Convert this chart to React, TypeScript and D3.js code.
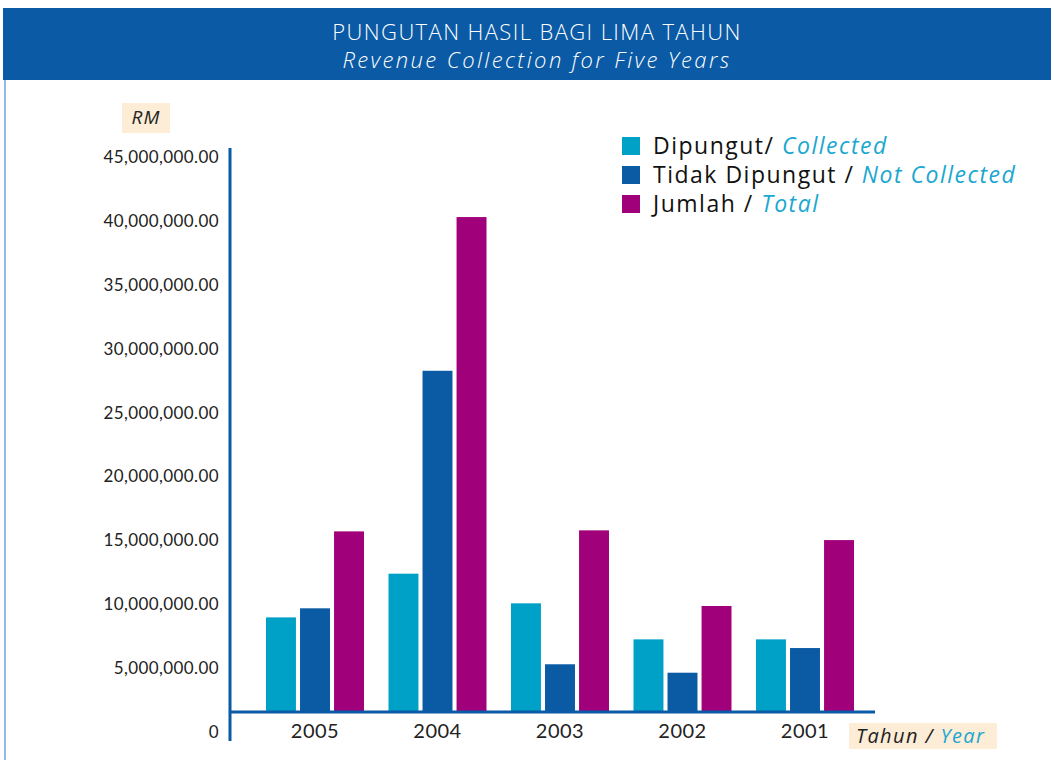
import React, { useEffect, useRef } from 'react';
import * as d3 from 'd3';

const years = ['2005', '2004', '2003', '2002', '2001'];
const collected = [8970000, 12390000, 10070000, 7250000, 7250000];
const notCollected = [9680000, 28270000, 5300000, 4640000, 6570000];
const total = [15700000, 40300000, 15780000, 9860000, 15020000];
const yTicks = [0, 5000000, 10000000, 15000000, 20000000, 25000000, 30000000, 35000000, 40000000, 45000000];
const seriesKeys = ['collected', 'notCollected', 'total'];
const seriesMy = ['Dipungut/ ', 'Tidak Dipungut / ', 'Jumlah / '];
const seriesEn = ['Collected', 'Not Collected', 'Total'];
const seriesColors = ['#00a1c7', '#0a5aa4', '#a1007b'];

const W = 1051;
const H = 760;
const FONT = '"Open Sans", Lato, sans-serif';
const NUMFONT = 'Lato, "Open Sans", sans-serif';

export default function App() {
  const ref = useRef<SVGSVGElement>(null);

  useEffect(() => {
    const svg = d3.select(ref.current);
    svg.selectAll('*').remove();

    const baseY = 712;
    const axisX = 230;

    const x = d3.scaleBand().domain(years).range([266, 854]).paddingInner(0.2).paddingOuter(0);
    const xSub = d3.scaleBand().domain(seriesKeys).range([0, x.bandwidth()]).paddingInner(0.12);
    const y = d3.scaleLinear().domain([0, 45000000]).range([732, 157]);

    // header band
    svg.append('rect').attr('x', 3).attr('y', 8).attr('width', W - 3).attr('height', 72).attr('fill', '#0a5aa5');
    svg.append('line')
      .attr('x1', 5).attr('x2', 5).attr('y1', 80).attr('y2', H)
      .attr('stroke', '#6fa3d8').attr('stroke-width', 1.5);

    svg.append('text')
      .attr('x', 537).attr('y', 40)
      .attr('text-anchor', 'middle')
      .attr('fill', '#fff')
      .style('font-family', FONT).style('font-size', '22px').style('font-weight', 300).style('letter-spacing', '1.4px')
      .text('PUNGUTAN HASIL BAGI LIMA TAHUN');
    svg.append('text')
      .attr('x', 537).attr('y', 68)
      .attr('text-anchor', 'middle')
      .attr('fill', '#fff')
      .style('font-family', FONT).style('font-size', '22px').style('font-style', 'italic').style('font-weight', 300)
      .style('letter-spacing', '2.4px')
      .text('Revenue Collection for Five Years');

    // RM label
    svg.append('rect').attr('x', 122).attr('y', 103).attr('width', 48).attr('height', 30).attr('fill', '#fdecd6');
    svg.append('text')
      .attr('x', 146).attr('y', 124)
      .attr('text-anchor', 'middle')
      .attr('fill', '#222')
      .style('font-family', FONT).style('font-size', '19px').style('font-style', 'italic').style('letter-spacing', '1px')
      .text('RM');

    // y axis labels
    const yAxis = svg.append('g')
      .attr('transform', `translate(${axisX},0)`)
      .call(d3.axisLeft(y).tickValues(yTicks).tickSize(0).tickPadding(11)
        .tickFormat(d => (+d === 0 ? '0' : d3.format(',.2f')(+d))));
    yAxis.select('.domain').remove();
    yAxis.selectAll('text')
      .attr('fill', '#222')
      .style('font-family', NUMFONT).style('font-size', '17px').style('letter-spacing', '0.4px');

    // bars
    const data = years.map((yr, i) => ({ yr, values: [collected[i], notCollected[i], total[i]] }));
    const groups = svg.append('g').selectAll('g')
      .data(data)
      .enter()
      .append('g')
      .attr('transform', d => `translate(${x(d.yr)},0)`);
    groups.selectAll('rect')
      .data(d => d.values.map((v, k) => ({ key: seriesKeys[k], v, k })))
      .enter()
      .append('rect')
      .attr('x', d => xSub(d.key)!)
      .attr('width', xSub.bandwidth())
      .attr('y', d => y(d.v))
      .attr('height', d => baseY - y(d.v))
      .attr('fill', d => seriesColors[d.k]);

    // axis lines
    svg.append('line')
      .attr('x1', axisX).attr('x2', axisX).attr('y1', 148).attr('y2', 741)
      .attr('stroke', '#0a5aa5').attr('stroke-width', 3);
    svg.append('line')
      .attr('x1', axisX).attr('x2', 875).attr('y1', baseY).attr('y2', baseY)
      .attr('stroke', '#0a5aa5').attr('stroke-width', 3);

    // x labels
    const xAxis = svg.append('g')
      .attr('transform', `translate(0,${baseY})`)
      .call(d3.axisBottom(x).tickSize(0).tickPadding(12));
    xAxis.select('.domain').remove();
    xAxis.selectAll('text')
      .attr('fill', '#222')
      .style('font-family', NUMFONT).style('font-size', '20px').style('letter-spacing', '0.5px');

    // Tahun / Year label
    svg.append('rect').attr('x', 849).attr('y', 723).attr('width', 148).attr('height', 26).attr('fill', '#fdecd6');
    const yl = svg.append('text')
      .attr('x', 856).attr('y', 743)
      .style('font-family', FONT).style('font-size', '20px').style('font-style', 'italic').style('letter-spacing', '1.4px');
    yl.append('tspan').attr('fill', '#222').text('Tahun / ');
    yl.append('tspan').attr('fill', '#1aa7d0').text('Year');

    // legend
    const leg = svg.append('g').selectAll('g')
      .data(seriesKeys)
      .enter()
      .append('g')
      .attr('transform', (d, i) => `translate(622,${146 + i * 29})`);
    leg.append('rect')
      .attr('x', 0).attr('y', -9).attr('width', 18).attr('height', 18)
      .attr('fill', (d, i) => seriesColors[i]);
    const lt = leg.append('text')
      .attr('x', 31).attr('y', 8)
      .style('font-family', FONT).style('font-size', '23px').style('letter-spacing', '1.5px');
    lt.append('tspan').attr('fill', '#111').text((d, i) => seriesMy[i]);
    lt.append('tspan').attr('fill', '#1aa7d0').style('font-style', 'italic').text((d, i) => seriesEn[i]);
  }, []);

  return (
    <div style={{ position: 'absolute', left: 0, top: 0 }}>
      <svg ref={ref} width={W} height={H} style={{ display: 'block', background: '#fff' }} />
    </div>
  );
}
